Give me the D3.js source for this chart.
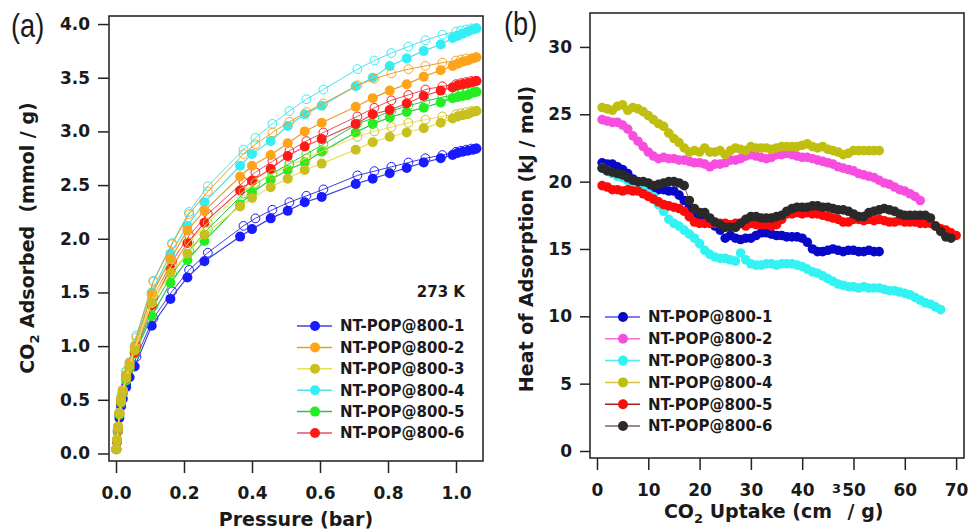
<!DOCTYPE html>
<html>
<head>
<meta charset="utf-8">
<script src="https://cdn.jsdelivr.net/npm/d3@7"></script>
<style>
body { margin: 0; background: #fff; }
text { font-family: "DejaVu Sans", sans-serif; fill: #1a1a1a; font-weight: bold; }
.tick text { font-size: 17px; }
.tick line { stroke: #222; stroke-width: 1.5px; }
.frame { fill: none; stroke: #2a2a2a; stroke-width: 1.6px; }
.title { font-size: 19px; white-space: pre; }
.leg { font-size: 15px; }
</style>
</head>
<body>
<script>
//series names (same for both panels)
var names = ["NT-POP@800-1", "NT-POP@800-2", "NT-POP@800-3", "NT-POP@800-4", "NT-POP@800-5", "NT-POP@800-6"];

//panel (a): pressure grids (bar)
var adsP = [0.001,0.003,0.006,0.01,0.015,0.02,0.03,0.04,0.055,0.105,0.16,0.21,0.26,0.365,0.40,0.455,0.505,0.555,0.605,0.705,0.755,0.805,0.855,0.905,0.955,0.99,1.005,1.02,1.035,1.05,1.06];
var desP = [1.06,1.045,1.03,1.015,1.0,0.96,0.91,0.86,0.81,0.76,0.71,0.61,0.56,0.51,0.46,0.41,0.375,0.27,0.215,0.165,0.11,0.06,0.03,0.015,0.005];

//adsorption branch (mmol / g)
var ads1 = [0.04,0.11,0.22,0.33,0.44,0.51,0.62,0.71,0.81,1.19,1.44,1.64,1.79,2.02,2.09,2.19,2.26,2.34,2.39,2.51,2.56,2.61,2.66,2.71,2.75,2.78,2.80,2.81,2.82,2.83,2.84];
var ads2 = [0.04,0.13,0.25,0.38,0.50,0.59,0.72,0.84,0.99,1.48,1.81,2.08,2.26,2.58,2.68,2.78,2.89,3.00,3.08,3.23,3.31,3.38,3.44,3.51,3.57,3.61,3.63,3.65,3.66,3.68,3.69];
var ads3 = [0.04,0.12,0.24,0.37,0.48,0.57,0.70,0.81,0.96,1.40,1.68,1.86,2.04,2.30,2.38,2.48,2.56,2.64,2.70,2.83,2.90,2.95,2.99,3.03,3.08,3.12,3.14,3.15,3.16,3.18,3.19];
var ads4 = [0.04,0.13,0.25,0.38,0.50,0.59,0.73,0.85,1.00,1.50,1.86,2.12,2.34,2.68,2.79,2.91,3.05,3.16,3.24,3.42,3.50,3.61,3.68,3.75,3.81,3.87,3.89,3.91,3.93,3.95,3.96];
var ads5 = [0.04,0.12,0.23,0.36,0.47,0.56,0.68,0.79,0.93,1.28,1.59,1.80,1.98,2.32,2.43,2.55,2.64,2.71,2.81,2.99,3.07,3.13,3.18,3.22,3.27,3.31,3.32,3.33,3.34,3.36,3.37];
var ads6 = [0.04,0.12,0.24,0.37,0.48,0.57,0.70,0.81,0.94,1.38,1.72,1.96,2.15,2.45,2.54,2.65,2.77,2.86,2.93,3.07,3.16,3.20,3.26,3.33,3.38,3.41,3.43,3.44,3.45,3.46,3.47];

//desorption branch (mmol / g)
var des1 = [2.84,2.84,2.83,2.82,2.81,2.78,2.75,2.71,2.67,2.63,2.59,2.46,2.40,2.34,2.27,2.19,2.12,1.87,1.71,1.51,1.26,0.90,0.64,0.46,0.20];
var des2 = [3.69,3.68,3.68,3.67,3.66,3.64,3.61,3.58,3.54,3.49,3.43,3.26,3.18,3.09,2.99,2.88,2.79,2.44,2.23,1.95,1.60,1.08,0.76,0.52,0.22];
var des3 = [3.19,3.19,3.18,3.17,3.16,3.14,3.11,3.08,3.04,3.00,2.95,2.82,2.75,2.68,2.60,2.52,2.44,2.15,1.97,1.76,1.47,1.03,0.73,0.50,0.21];
var des4 = [3.96,3.96,3.95,3.94,3.93,3.90,3.85,3.79,3.73,3.66,3.58,3.39,3.30,3.19,3.07,2.94,2.83,2.49,2.25,1.96,1.61,1.10,0.77,0.53,0.22];
var des5 = [3.37,3.37,3.36,3.35,3.34,3.32,3.28,3.24,3.19,3.13,3.07,2.88,2.79,2.70,2.61,2.51,2.42,2.09,1.89,1.67,1.37,0.97,0.70,0.48,0.20];
var des6 = [3.47,3.47,3.46,3.45,3.44,3.42,3.39,3.34,3.29,3.22,3.14,2.99,2.91,2.82,2.72,2.62,2.53,2.23,2.03,1.79,1.46,1.00,0.72,0.49,0.21];

//panel (b): CO2 uptake (cm3 / g)
var uptake = [1,2,3,4,5,6,7,8,9,10,11,12,13,14,15,16,17,18,19,20,21,22,23,24,25,26,27,28,29,30,31,32,33,34,35,36,37,38,39,40,41,42,43,44,45,46,47,48,49,50,51,52,53,54,55,56,57,58,59,60,61,62,63,64,65,66,67,68,69,70];

//heat of adsorption (kJ / mol)
var heat1 = [21.4,21.3,21.3,21.1,20.9,20.6,20.2,19.6,19.4,19.4,19.4,19.4,19.4,19.3,19.3,19.0,18.6,18.1,17.7,17.4,17.2,17.0,16.7,16.4,15.8,16.0,15.8,15.7,15.8,15.8,16.0,16.2,16.2,16.1,16.0,16.0,15.9,15.9,15.9,15.8,15.5,15.0,14.8,14.8,14.9,15.0,14.9,14.8,14.9,14.9,14.8,14.8,14.9,14.8,14.8];
var heat2 = [24.6,24.5,24.4,24.4,24.2,23.9,23.4,23.0,22.6,22.2,21.9,21.7,21.8,21.7,21.7,21.6,21.6,21.5,21.4,21.4,21.3,21.1,21.3,21.3,21.4,21.6,21.6,21.7,21.9,22.0,21.9,21.8,21.7,21.8,22.0,22.0,22.1,22.0,21.9,21.8,21.8,21.7,21.6,21.5,21.4,21.3,21.1,21.0,20.9,20.8,20.6,20.5,20.4,20.3,20.1,19.9,19.8,19.6,19.4,19.3,19.1,18.9,18.6];
var heat3 = [21.0,20.8,20.6,20.4,20.3,20.1,19.9,19.7,19.4,19.1,18.9,18.3,17.8,17.2,16.9,16.7,16.4,16.1,15.8,15.4,14.9,14.6,14.4,14.3,14.3,14.2,14.1,14.7,14.2,13.9,13.8,13.8,13.9,13.9,13.8,13.9,13.9,13.9,13.8,13.7,13.5,13.3,13.2,13.0,12.8,12.6,12.4,12.3,12.2,12.2,12.1,12.2,12.1,12.1,12.1,12.0,11.9,11.9,11.8,11.7,11.6,11.4,11.2,11.0,10.9,10.7,10.5];
var heat4 = [25.5,25.4,25.3,25.6,25.7,25.3,25.5,25.4,25.2,24.9,24.6,24.3,24.1,23.6,23.2,22.9,22.5,22.2,22.3,22.2,22.5,22.2,22.2,22.3,22.0,22.3,22.5,22.4,22.3,22.6,22.5,22.5,22.5,22.4,22.5,22.6,22.6,22.6,22.6,22.7,22.8,22.6,22.5,22.6,22.4,22.3,22.2,22.0,22.1,22.3,22.3,22.3,22.3,22.3,22.3];
var heat5 = [19.7,19.6,19.4,19.4,19.3,19.4,19.3,19.3,19.1,18.9,18.7,18.5,18.3,18.2,18.1,18.0,17.8,17.4,17.0,16.9,16.9,16.9,16.9,16.9,16.9,16.8,16.9,16.9,16.7,16.9,16.8,16.8,16.8,16.7,16.8,17.2,17.6,17.6,17.7,17.6,17.7,17.6,17.6,17.5,17.4,17.3,17.2,17.0,17.0,17.2,17.2,17.1,17.2,17.1,17.2,17.1,17.0,17.0,17.1,17.0,17.0,17.0,16.9,16.9,16.9,16.7,16.5,16.4,16.2,16.0];
var heat6 = [21.0,20.8,20.7,20.6,20.5,20.3,20.1,20.0,20.0,19.9,19.7,19.8,19.9,20.0,20.0,19.9,19.7,18.6,18.0,17.7,17.7,17.3,17.0,16.8,16.6,16.6,16.6,16.9,17.2,17.4,17.4,17.3,17.3,17.3,17.4,17.5,17.8,18.0,18.1,18.1,18.1,18.2,18.2,18.1,18.1,18.0,17.9,17.9,17.8,17.6,17.4,17.4,17.7,17.8,17.9,18.0,17.9,17.8,17.6,17.5,17.5,17.5,17.5,17.5,17.3,16.7,16.3,15.9,15.8];

//colors
var colA = ["#1a1aff", "#ffa31a", "#c8c020", "#33eef5", "#22ee22", "#ff1a1a"];
var lineA = ["#4040e0", "#e0a030", "#ece050", "#50e0e8", "#30c050", "#e85060"];
var colB = ["#0808c8", "#f84ee0", "#33f2f2", "#c0bf10", "#ff0a0a", "#2a2a2a"];
var lineB = ["#5050f0", "#f070e0", "#50e8e8", "#e0c040", "#a02020", "#806060"];

var width = 971, height = 531;

var svg = d3.select("body")
    .append("svg")
    .attr("width", width)
    .attr("height", height);

//panel (a) scales
var xa = d3.scaleLinear().domain([-0.0206, 1.0794]).range([109, 483]);
var ya = d3.scaleLinear().domain([-0.07, 4.075]).range([461, 16]);

//panel (b) scales
var xb = d3.scaleLinear().domain([-1.36, 71.54]).range([590, 964]);
var yb = d3.scaleLinear().domain([-0.52, 32.52]).range([458, 13]);

function cleanAxis(g){
    g.select(".domain").remove();
    g.attr("font-family", null).attr("font-size", null);
}

//axes (a)
svg.append("g")
    .attr("transform", "translate(109,0)")
    .call(d3.axisLeft(ya).tickValues([0,0.5,1,1.5,2,2.5,3,3.5,4]).tickFormat(d3.format(".1f")).tickSize(11).tickPadding(8))
    .call(cleanAxis);
svg.append("g")
    .attr("transform", "translate(0,461)")
    .call(d3.axisBottom(xa).tickValues([0,0.2,0.4,0.6,0.8,1.0]).tickFormat(d3.format(".1f")).tickSize(12).tickPadding(14))
    .call(cleanAxis);

//axes (b)
svg.append("g")
    .attr("transform", "translate(590,0)")
    .call(d3.axisLeft(yb).tickValues([0,5,10,15,20,25,30]).tickFormat(d3.format("d")).tickSize(10).tickPadding(8))
    .call(cleanAxis);
svg.append("g")
    .attr("transform", "translate(0,458)")
    .call(d3.axisBottom(xb).tickValues([0,10,20,30,40,50,60,70]).tickFormat(d3.format("d")).tickSize(12).tickPadding(14))
    .call(cleanAxis);

//panel (a) data
var isoSeries = names.map(function(n, i){
    var a = [ads1, ads2, ads3, ads4, ads5, ads6][i],
        d = [des1, des2, des3, des4, des5, des6][i];
    return {
        name: n, color: colA[i], line: lineA[i],
        ads: adsP.map(function(p, j){ return [p, a[j]]; }),
        des: desP.map(function(p, j){ return [p, d[j]]; })
    };
});
var drawOrderA = [0, 3, 4, 5, 1, 2];

var lineGenA = d3.line()
    .x(function(d){ return xa(d[0]); })
    .y(function(d){ return ya(d[1]); });

var plotA = svg.append("g");
drawOrderA.forEach(function(i){
    var s = isoSeries[i];
    var g = plotA.append("g");
    g.append("path")
        .datum(s.des)
        .attr("d", lineGenA)
        .attr("fill", "none")
        .attr("stroke", s.line)
        .attr("stroke-width", 1);
    g.selectAll(".open")
        .data(s.des)
        .enter()
        .append("circle")
        .attr("cx", function(d){ return xa(d[0]); })
        .attr("cy", function(d){ return ya(d[1]); })
        .attr("r", 4.4)
        .attr("fill", "none")
        .attr("stroke", s.color)
        .attr("stroke-width", 1);
    g.append("path")
        .datum(s.ads)
        .attr("d", lineGenA)
        .attr("fill", "none")
        .attr("stroke", s.line)
        .attr("stroke-width", 1.2);
    g.selectAll(".filled")
        .data(s.ads)
        .enter()
        .append("circle")
        .attr("cx", function(d){ return xa(d[0]); })
        .attr("cy", function(d){ return ya(d[1]); })
        .attr("r", 5)
        .attr("fill", s.color);
});

//panel (b) data
var heatSeries = names.map(function(n, i){
    var h = [heat1, heat2, heat3, heat4, heat5, heat6][i];
    return {
        name: n, color: colB[i], line: lineB[i],
        values: h.map(function(v, j){ return [uptake[j], v]; })
    };
});

var lineGenB = d3.line()
    .x(function(d){ return xb(d[0]); })
    .y(function(d){ return yb(d[1]); });

var plotB = svg.append("g");
heatSeries.forEach(function(s){
    var g = plotB.append("g");
    g.append("path")
        .datum(s.values)
        .attr("d", lineGenB)
        .attr("fill", "none")
        .attr("stroke", s.line)
        .attr("stroke-width", 1);
    g.selectAll("circle")
        .data(s.values)
        .enter()
        .append("circle")
        .attr("cx", function(d){ return xb(d[0]); })
        .attr("cy", function(d){ return yb(d[1]); })
        .attr("r", 4.8)
        .attr("fill", s.color);
});

//frames
svg.append("rect").attr("class", "frame")
    .attr("x", 109).attr("y", 16).attr("width", 374).attr("height", 445);
svg.append("rect").attr("class", "frame")
    .attr("x", 590).attr("y", 13).attr("width", 374).attr("height", 445);

//legends
function legend(series, x0, y0, dy){
    var g = svg.append("g");
    series.forEach(function(s, i){
        var y = y0 + i * dy;
        g.append("line")
            .attr("x1", x0).attr("x2", x0 + 35)
            .attr("y1", y).attr("y2", y)
            .attr("stroke", s.line).attr("stroke-width", 1.5);
        g.append("circle")
            .attr("cx", x0 + 18).attr("cy", y).attr("r", 5)
            .attr("fill", s.color);
        g.append("text")
            .attr("class", "leg")
            .attr("x", x0 + 43).attr("y", y)
            .attr("dy", "0.36em")
            .text(s.name);
    });
}
legend(isoSeries, 297, 326, 21.4);
legend(heatSeries, 605, 317, 21.8);

svg.append("text")
    .attr("class", "leg")
    .attr("x", 465).attr("y", 292).attr("dy", "0.36em")
    .attr("text-anchor", "end")
    .text("273 K");

//axis titles
var ta = svg.append("text")
    .attr("class", "title")
    .attr("transform", "translate(34,238) rotate(-90)")
    .attr("text-anchor", "middle");
ta.append("tspan").text("CO");
ta.append("tspan").attr("font-size", "13px").attr("dy", 5).text("2");
ta.append("tspan").attr("dy", -5).text(" Adsorbed  (mmol / g)");

svg.append("text")
    .attr("class", "title")
    .attr("x", 296).attr("y", 526)
    .attr("text-anchor", "middle")
    .text("Pressure (bar)");

svg.append("text")
    .attr("class", "title")
    .attr("transform", "translate(533,239) rotate(-90)")
    .attr("text-anchor", "middle")
    .text("Heat of Adsorption (kJ / mol)");

//x title (b): left part, raised "3", right part
var tb = svg.append("text")
    .attr("class", "title")
    .attr("x", 832).attr("y", 518)
    .attr("text-anchor", "end");
tb.append("tspan").text("CO");
tb.append("tspan").attr("font-size", "13px").attr("dy", 5).text("2");
tb.append("tspan").attr("dy", -5).text(" Uptake (cm");
svg.append("text")
    .attr("x", 832).attr("y", 493)
    .style("font-size", "13px")
    .text("3");
svg.append("text")
    .attr("class", "title")
    .attr("x", 841).attr("y", 518)
    .text(" / g)");

//panel letters
svg.append("text")
    .attr("transform", "translate(11,37) scale(0.8,1)")
    .style("font-family", "Liberation Sans")
    .style("font-weight", "normal")
    .style("font-size", "34px")
    .text("(a)");
svg.append("text")
    .attr("transform", "translate(504,35) scale(0.8,1)")
    .style("font-family", "Liberation Sans")
    .style("font-weight", "normal")
    .style("font-size", "34px")
    .text("(b)");
</script>
</body>
</html>
